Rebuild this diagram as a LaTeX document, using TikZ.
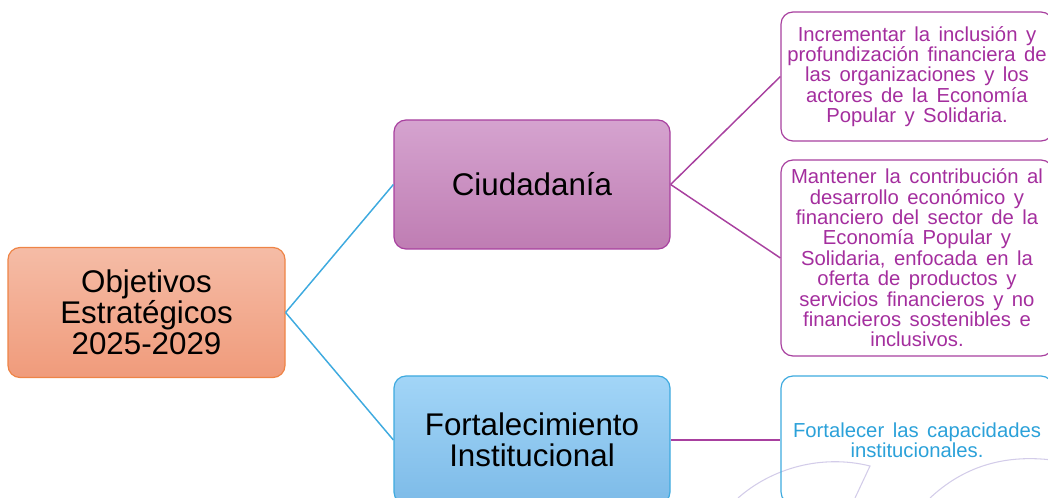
\documentclass[tikz,border=0pt]{standalone}
\usepackage{fontspec}
\setmainfont{Liberation Sans}
\definecolor{salmonTop}{HTML}{F5BCA6}
\definecolor{salmonBot}{HTML}{F09B7B}
\definecolor{salmonLine}{HTML}{EE8446}
\definecolor{moradoTop}{HTML}{D5A3CF}
\definecolor{moradoBot}{HTML}{BF7DB3}
\definecolor{moradoLine}{HTML}{A8409F}
\definecolor{moradoText}{HTML}{A42E9E}
\definecolor{celesteTop}{HTML}{A2D5F7}
\definecolor{celesteBot}{HTML}{7DBBE8}
\definecolor{celesteLine}{HTML}{3EAADF}
\definecolor{celesteText}{HTML}{2BA1D9}
\definecolor{lavanda}{HTML}{D3CCE9}
\newcommand{\espacioHoja}{\spaceskip=0.42em plus 0.1em\relax}
\begin{document}
\begin{tikzpicture}[x=0.75pt, y=-0.75pt,
    caja/.style ={rectangle, rounded corners=9pt, line width=0.9pt, align=center,
                  font=\fontsize{23.5}{23.3}\selectfont},
    objetivo/.style ={caja, draw=salmonLine, top color=salmonTop, bottom color=salmonBot,
                  minimum width=207.75pt, minimum height=97.5pt},
    eje/.style ={caja, minimum width=207pt, minimum height=96.75pt},
    hoja/.style ={rectangle, rounded corners=9pt, line width=0.9pt, align=center,
                  fill=white, minimum width=204pt,
                  font=\fontsize{15.2}{15.3}\selectfont\espacioHoja},
    ramaAzul/.style ={draw=celesteLine, line width=1.1pt},
    ramaMorada/.style ={draw=moradoLine, line width=1.1pt}]
   \useasboundingbox (0,0) rectangle (1048,498);
   \clip (0,0) rectangle (1048,498);
   % fondo
   \draw[lavanda, line width=0.8pt] (738,498) .. controls (772,468) and (822,454) .. (870,466) -- (855,498);
   \draw[lavanda, line width=0.8pt] (930,498) .. controls (962,468) and (1002,454) .. (1052,460);
   % nodos
   \node[objetivo] (objetivos) at (146.5,312.5) {Objetivos\\Estratégicos\\2025-2029};
   \node[eje, draw=moradoLine, top color=moradoTop, bottom color=moradoBot]
        (ciudadania) at (532,184.5) {Ciudadanía};
   \node[eje, draw=celesteLine, top color=celesteTop, bottom color=celesteBot,
         minimum height=96pt] (fortalecimiento) at (532,440) {Fortalecimiento\\Institucional};
   \node[hoja, draw=moradoLine, text=moradoText, minimum height=96.75pt]
        (inclusion) at (917,76.5)
        {Incrementar la inclusión y\\profundización financiera de\\las organizaciones y los\\actores de la Economía\\Popular y Solidaria.};
   \node[hoja, draw=moradoLine, text=moradoText, minimum height=147pt]
        (contribucion) at (917,258)
        {Mantener la contribución al\\desarrollo económico y\\financiero del sector de la\\Economía Popular y\\Solidaria, enfocada en la\\oferta de productos y\\servicios financieros y no\\financieros sostenibles e\\inclusivos.};
   \node[hoja, draw=celesteLine, text=celesteText, fill=none, minimum height=96pt]
        (capacidades) at (917,440) {Fortalecer las capacidades\\institucionales.};
   % conectores
   \draw[ramaAzul] (objetivos.east) to (ciudadania.west);
   \draw[ramaAzul] (objetivos.east) to (fortalecimiento.west);
   \draw[ramaMorada] (ciudadania.east) to (inclusion.west);
   \draw[ramaMorada] (ciudadania.east) to (contribucion.west);
   \draw[ramaMorada] (fortalecimiento.east) to (capacidades.west);
\end{tikzpicture}
\end{document}
